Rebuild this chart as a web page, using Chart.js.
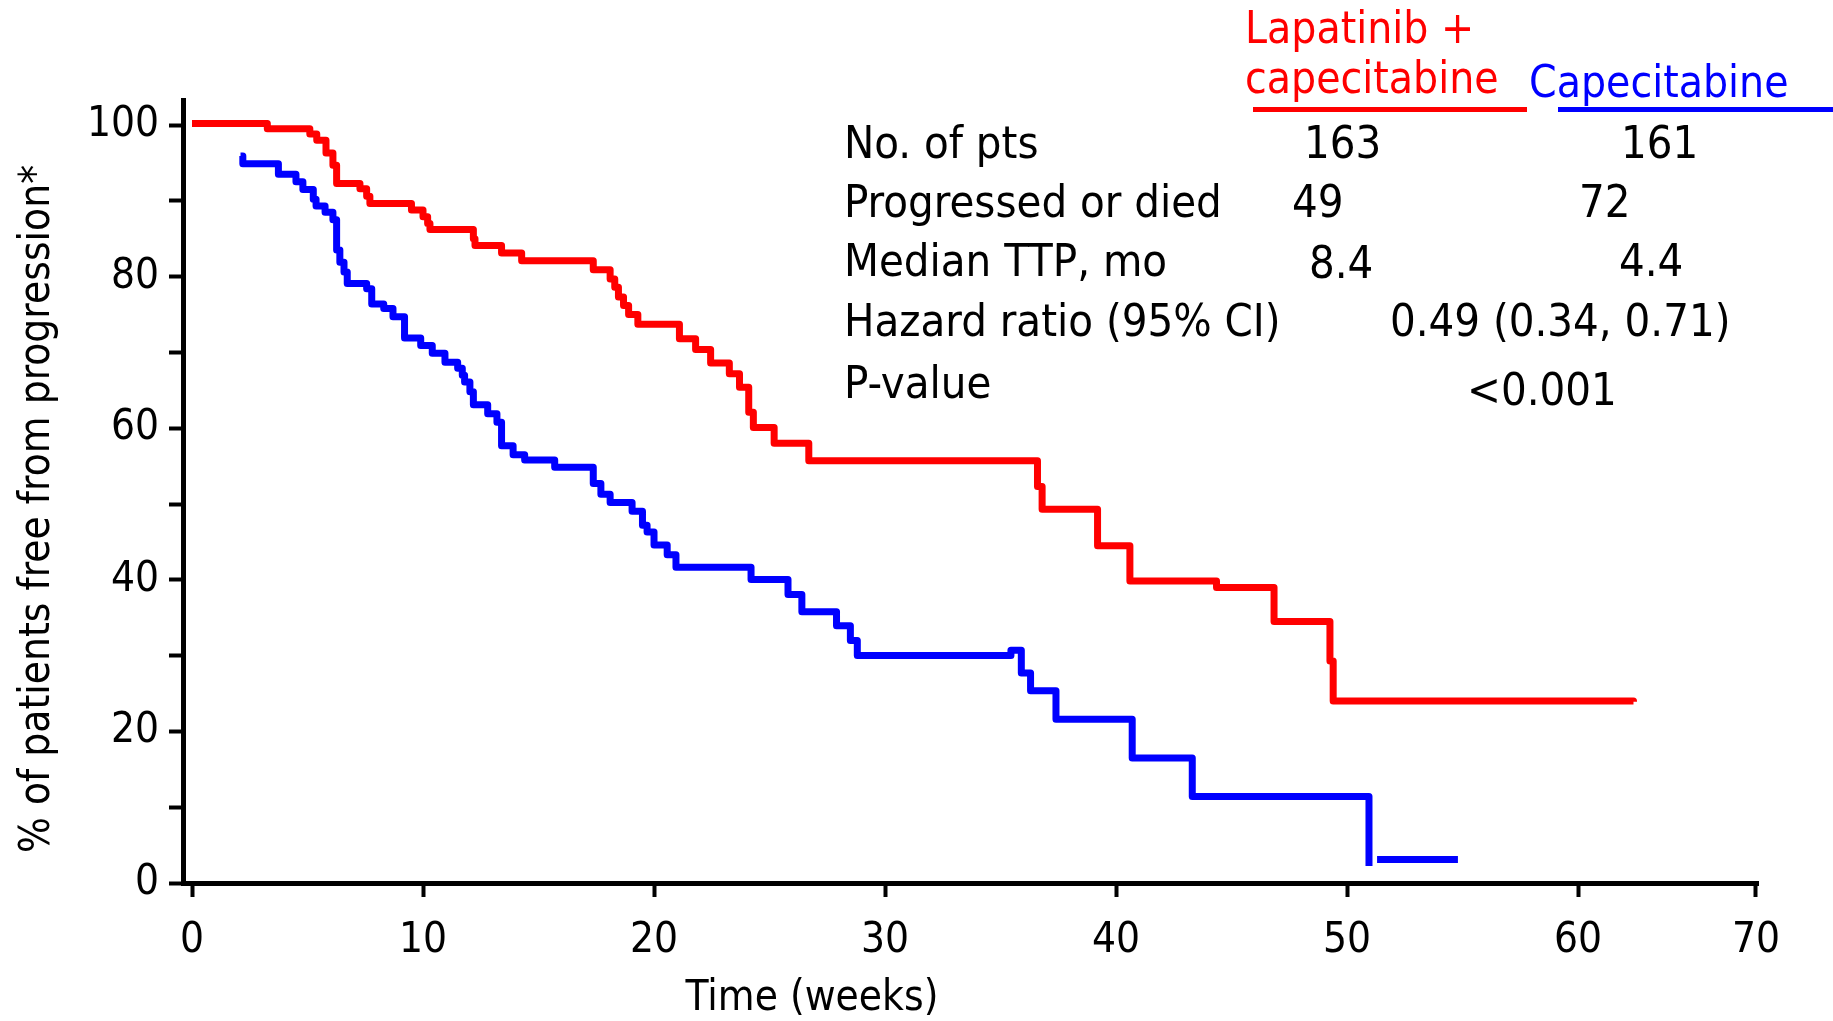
<!DOCTYPE html>
<html>
<head>
<meta charset="utf-8">
<script src="https://cdn.jsdelivr.net/npm/chart.js@4/dist/chart.umd.min.js"></script>
<style>
  html, body { margin: 0; padding: 0; background: #fff; }
  #wrap { width: 1833px; height: 1021px; }
</style>
</head>
<body>
<div id="wrap"><canvas id="c" width="1833" height="1021"></canvas></div>
<script>
// ---- Data (weeks, % free from progression) ----
const lapTimes  = [0, 3.26, 5.1, 5.4, 5.8, 6.1, 6.26, 7.27, 7.56, 7.7, 9.5, 10.0, 10.2, 10.3, 12.18, 12.25, 13.4, 14.27, 17.37, 18.1, 18.3, 18.46, 18.68, 18.9, 19.3, 21.1, 21.8, 22.45, 23.26, 23.7, 24.1, 24.3, 25.2, 26.7, 36.6, 36.8, 39.2, 40.6, 44.35, 46.84, 49.26, 49.4, 62.4];
const lapValues = [100.2, 99.5, 98.8, 98.0, 96.3, 94.7, 92.3, 91.6, 90.6, 89.65, 88.8, 87.9, 87.0, 86.2, 85.0, 84.1, 83.1, 82.1, 80.9, 79.7, 78.6, 77.3, 76.2, 75.0, 73.7, 71.8, 70.4, 68.6, 67.2, 65.4, 62.1, 60.1, 58.0, 55.7, 52.3, 49.3, 44.5, 39.85, 39.0, 34.5, 29.3, 24.0, 23.9];

const capTimes  = [2.1, 2.2, 3.74, 4.5, 4.8, 5.25, 5.37, 5.76, 6.1, 6.26, 6.4, 6.58, 6.72, 7.56, 7.78, 8.3, 8.7, 9.2, 9.9, 10.4, 10.95, 11.5, 11.7, 11.8, 12.03, 12.18, 12.8, 13.2, 13.4, 13.9, 14.4, 15.7, 17.37, 17.7, 18.1, 19.05, 19.5, 19.7, 20.0, 20.57, 20.95, 24.2, 25.8, 26.4, 27.9, 28.5, 28.8, 35.45, 35.9, 36.3, 37.4, 40.7, 43.3, 50.95, 51.1, 51.3, 54.8];
const capValues = [95.9, 94.9, 93.5, 92.5, 91.5, 90.2, 89.3, 88.5, 87.5, 83.5, 81.9, 80.6, 79.1, 78.4, 76.4, 75.8, 74.7, 71.9, 70.9, 69.9, 68.7, 67.9, 67.0, 66.1, 64.8, 63.1, 61.9, 60.8, 57.7, 56.5, 55.8, 54.85, 52.7, 51.3, 50.2, 49.05, 47.2, 46.3, 44.6, 43.3, 41.65, 40.05, 38.05, 35.8, 33.95, 32.0, 30.0, 30.7, 27.7, 25.35, 21.6, 16.5, 11.4, 2.25, null, 3.1, 3.1];

const xTickValues = [0, 10, 20, 30, 40, 50, 60, 67.7];
const xTickLabels = ['0', '10', '20', '30', '40', '50', '60', '70'];
const yTickValues = [0, 10, 20, 30, 40, 50, 60, 70, 80, 90, 100];
const yTickLabels = ['0', '', '20', '', '40', '', '60', '', '80', '', '100'];

const seriesNames = ['Lapatinib +', 'capecitabine', 'Capecitabine'];
const tableRowLabels = ['No. of pts', 'Progressed or died', 'Median TTP, mo', 'Hazard ratio (95% CI)', 'P-value'];
const tableLapValues = ['163', '49', '8.4'];
const tableCapValues = ['161', '72', '4.4'];
const hazardText = '0.49 (0.34, 0.71)';
const pValueText = '<0.001';
const xTitle = 'Time (weeks)';
const yTitle = '% of patients free from progression*';

const RED = '#ff0000', BLUE = '#0000ff';
const FONT = "'DejaVu Sans Condensed', 'DejaVu Sans', sans-serif";

const toPoints = (xs, ys) => xs.map((x, i) => ({ x: x, y: ys[i] }));

const annotations = {
  id: 'annotations',
  afterDraw(chart) {
    const ctx = chart.ctx;
    ctx.save();
    ctx.fillStyle = '#000';
    ctx.textBaseline = 'alphabetic';
    ctx.textAlign = 'left';
    // legend headers
    ctx.font = '44px ' + FONT;
    ctx.fillStyle = RED;
    ctx.fillText(seriesNames[0], 1245, 43);
    ctx.fillText(seriesNames[1], 1245, 93);
    ctx.fillStyle = BLUE;
    ctx.fillText(seriesNames[2], 1529, 97);
    ctx.fillStyle = RED;
    ctx.fillRect(1253, 107, 274, 5);
    ctx.fillStyle = BLUE;
    ctx.fillRect(1558, 107, 275, 5);
    // table
    ctx.fillStyle = '#000';
    ctx.font = '45px ' + FONT;
    const rowY = [158, 217, 276, 336, 398];
    tableRowLabels.forEach((t, i) => ctx.fillText(t, 844, rowY[i]));
    const lapX = [1304, 1292, 1309], lapY = [158, 217, 278];
    tableLapValues.forEach((t, i) => ctx.fillText(t, lapX[i], lapY[i]));
    const capX = [1621, 1579, 1619], capY = [158, 217, 276];
    tableCapValues.forEach((t, i) => ctx.fillText(t, capX[i], capY[i]));
    ctx.fillText(hazardText, 1390, 336);
    ctx.fillText(pValueText, 1467, 405);
    // axis titles
    ctx.font = '42px ' + FONT;
    ctx.textAlign = 'center';
    ctx.fillText(xTitle, 812, 1010);
    ctx.translate(49, 509);
    ctx.rotate(-Math.PI / 2);
    ctx.fillText(yTitle, 0, 0);
    ctx.restore();
  }
};

new Chart(document.getElementById('c'), {
  type: 'line',
  data: {
    datasets: [
      { label: 'Lapatinib + capecitabine', data: toPoints(lapTimes, lapValues), borderColor: RED, backgroundColor: RED,
        borderWidth: 7, pointRadius: 0, stepped: 'before', spanGaps: false, fill: false,
        borderJoinStyle: 'round', borderCapStyle: 'butt' },
      { label: 'Capecitabine', data: toPoints(capTimes, capValues), borderColor: BLUE, backgroundColor: BLUE,
        borderWidth: 7, pointRadius: 0, stepped: 'before', spanGaps: false, fill: false,
        borderJoinStyle: 'round', borderCapStyle: 'butt' }
    ]
  },
  options: {
    responsive: false,
    animation: false,
    devicePixelRatio: 1,
    layout: { padding: { top: 100, right: 75, bottom: 0, left: 0 } },
    plugins: { legend: { display: false }, tooltip: { enabled: false } },
    scales: {
      x: {
        type: 'linear', min: -0.39, max: 67.79,
        afterBuildTicks: (s) => { s.ticks = xTickValues.map(v => ({ value: v })); },
        afterFit: (s) => { s.height = 138; },
        ticks: { callback: (v, i) => xTickLabels[i], color: '#000', font: { family: FONT, size: 42 }, padding: 19, maxRotation: 0, autoSkip: false },
        grid: { display: true, drawOnChartArea: false, drawTicks: true, tickLength: 14, tickWidth: 4, tickColor: '#000' },
        border: { display: true, color: '#000', width: 5 },
        title: { display: false }
      },
      y: {
        type: 'linear', min: 0, max: 103.3,
        afterBuildTicks: (s) => { s.ticks = yTickValues.map(v => ({ value: v })); },
        afterFit: (s) => { s.width = 183; },
        ticks: { callback: (v, i) => yTickLabels[i], color: '#000', font: { family: FONT, size: 42 }, padding: 10, autoSkip: false },
        grid: { display: true, drawOnChartArea: false, drawTicks: true, tickLength: 14, tickWidth: 4, tickColor: '#000' },
        border: { display: true, color: '#000', width: 5 },
        title: { display: false }
      }
    }
  },
  plugins: [annotations]
});
</script>
</body>
</html>
